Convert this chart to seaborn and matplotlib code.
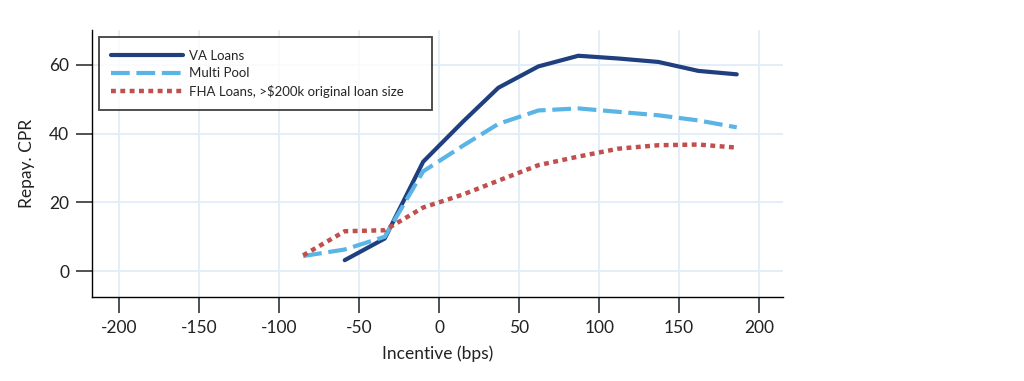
import pandas as pd
import numpy as np
import matplotlib.pyplot as plt
import seaborn as sns

# data
va_x = [-59, -34, -10, 15, 37, 62, 87, 112, 137, 162, 186]
va_y = [3.2, 9.5, 31.8, 43.5, 53.3, 59.5, 62.6, 61.8, 60.8, 58.2, 57.2]

mp_x = [-85, -59, -34, -10, 15, 37, 62, 87, 112, 137, 162, 186]
mp_y = [4.4, 6.3, 10.0, 29.0, 36.5, 42.8, 46.7, 47.3, 46.3, 45.3, 43.8, 41.8]

fha_x = [-85, -59, -34, -10, 15, 37, 62, 87, 112, 137, 162, 186]
fha_y = [4.6, 11.6, 11.9, 18.5, 22.3, 26.3, 30.8, 33.3, 35.6, 36.6, 36.8, 35.9]

series = ['VA Loans', 'Multi Pool', 'FHA Loans, >$200k original loan size']
colors = ['#1f3f7e', '#5ab4e6', '#c0504d']
styles = ['-', (0, (4.5, 1.6)), (0, (1.1, 1))]
widths = [3.0, 3.0, 3.2]

df = pd.concat([
    pd.DataFrame({'x': va_x, 'y': va_y, 'series': series[0]}),
    pd.DataFrame({'x': mp_x, 'y': mp_y, 'series': series[1]}),
    pd.DataFrame({'x': fha_x, 'y': fha_y, 'series': series[2]}),
])

sns.set_style('white')
plt.rcParams['font.family'] = ['Lato', 'DejaVu Sans']
plt.rcParams['axes.unicode_minus'] = False

fig = plt.figure(figsize=(10.24, 3.81), dpi=100)
ax = fig.add_axes([0.0898, 0.2205, 0.675, 0.70])

for name, c, ls, lw in zip(series, colors, styles, widths):
    sns.lineplot(data=df[df['series'] == name], x='x', y='y', ax=ax,
                 color=c, linestyle=ls, linewidth=lw, label=name)

ax.set_xlim(-217, 215)
ax.set_ylim(-7.5, 70)
ax.set_xticks([-200, -150, -100, -50, 0, 50, 100, 150, 200])
ax.set_yticks([0, 20, 40, 60])
ax.grid(True, color='#e1edf8', linewidth=1.3)
ax.set_axisbelow(True)

for s in ['top', 'right']:
    ax.spines[s].set_visible(False)
for s in ['left', 'bottom']:
    ax.spines[s].set_color('black')
    ax.spines[s].set_linewidth(1.0)

ax.tick_params(axis='both', direction='out', length=11.5, width=1.1, color='#222222',
               labelsize=12.5, left=True, bottom=True, labelcolor='#222222', pad=5)
ax.set_xlabel('Incentive (bps)', fontsize=12.5, color='#222222', labelpad=7)
ax.set_ylabel('Repay. CPR', fontsize=12.5, color='#222222', labelpad=10)

leg = ax.legend(loc='upper left', fontsize=9.5, frameon=True, fancybox=False,
                handlelength=5.4, handletextpad=0.5, borderpad=0.95, labelspacing=0.42,
                bbox_to_anchor=(0.0101, 0.974, 0.482, 0), mode='expand', borderaxespad=0)
leg.get_frame().set_edgecolor('#111111')
leg.get_frame().set_linewidth(1.3)

plt.savefig('out.png', dpi=100)
